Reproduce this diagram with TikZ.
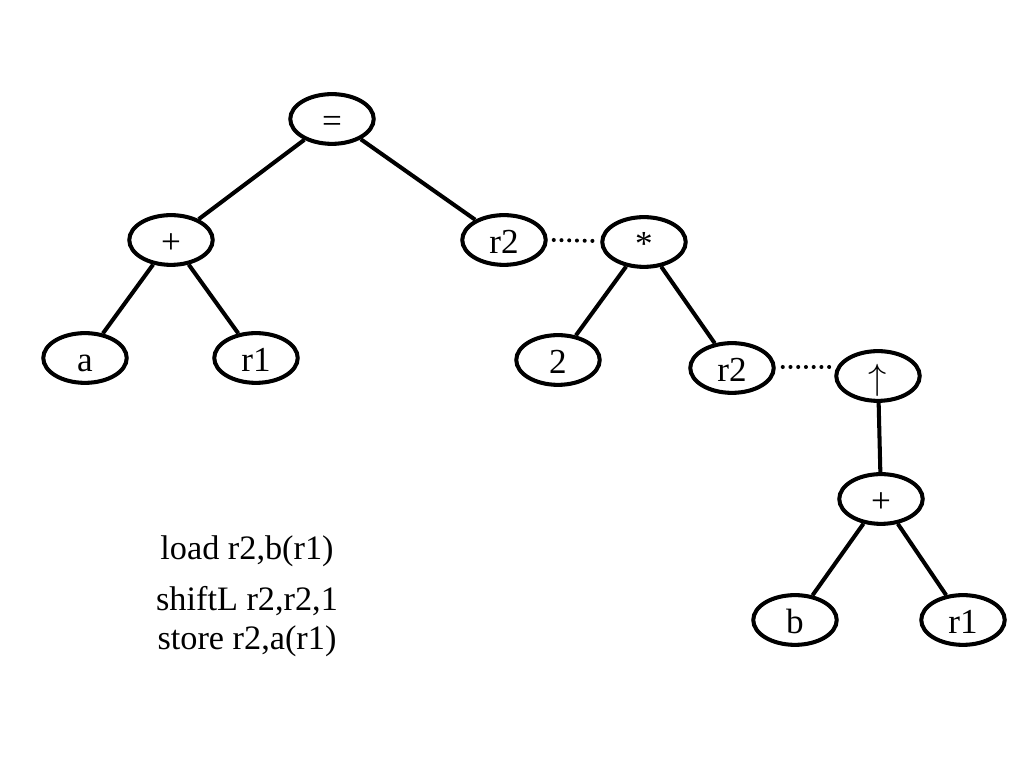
\documentclass[tikz,border=0pt]{standalone}
\usepackage{fontspec}
\setmainfont{Liberation Serif}
\usetikzlibrary{shapes.geometric, positioning, calc}

\begin{document}
\begin{tikzpicture}[x=0.2mm,y=-0.2mm,
  tnode/.style={ellipse, draw, line width=2.3pt, inner sep=0pt,
    minimum width=47.5pt, minimum height=28.3pt, text height=17pt, text depth=2pt,
    font=\fontsize{20}{24}\selectfont},
  edge/.style={line width=2.3pt},
  dotlink/.style={line width=2.3pt, line cap=round, dash pattern=on 0pt off 4.4pt},
  code/.style={font=\fontsize{19.5}{23}\selectfont}]
\useasboundingbox (0,0) rectangle (1024,768);
% tree nodes
\node[tnode] (eq) at (332,119) {=};
\node[tnode] (plusA) at (171,240) {+};
\node[tnode] (a) at (85,358) {a};
\node[tnode] (r1A) at (256,358) {r1};
\node[tnode] (r2A) at (504,240) {r2};
\node[tnode] (mul) at (644,242) {*};
\node[tnode] (two) at (558,360) {2};
\node[tnode] (r2B) at (732,368) {r2};
\node[tnode] (up) at (878,376) {$\uparrow$};
\node[tnode] (plusB) at (881,499) {+};
\node[tnode] (b) at (795,620) {b};
\node[tnode] (r1B) at (963,620) {r1};

% connectors
\draw[edge] (eq) -- (plusA);
\draw[edge] (eq) -- (r2A);
\draw[edge] (plusA) -- (a);
\draw[edge] (plusA) -- (r1A);
\draw[edge] (mul) -- (two);
\draw[edge] (mul) -- (r2B);
\draw[edge] (up) -- (plusB);
\draw[edge] (plusB) -- (b);
\draw[edge] (plusB) -- (r1B);
\draw[dotlink] ($(r2A.east)+(6,0)$) -- ($(mul.west)+(-4,-1)$);
\draw[dotlink] ($(r2B.east)+(7,-1)$) -- ($(up.west)+(-4,-9)$);

% generated code
\node[code] (l1) at (247,551) {load r2,b(r1)};
\node[code] (l2) at (247,601) {shiftL r2,r2,1};
\node[code] (l3) at (247,641) {store r2,a(r1)};
\end{tikzpicture}
\end{document}
